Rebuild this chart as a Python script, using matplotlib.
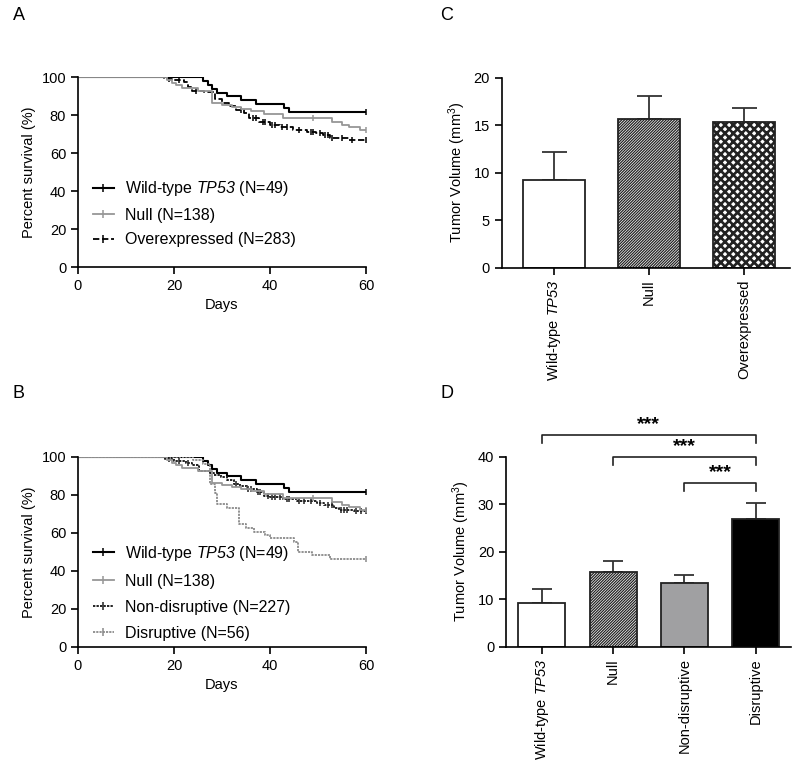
import numpy as np
import matplotlib
matplotlib.use("Agg")
import matplotlib.pyplot as plt
from matplotlib.lines import Line2D

plt.rcParams['font.family'] = ['Liberation Sans', 'DejaVu Sans']
plt.rcParams['mathtext.fontset'] = 'custom'
plt.rcParams['mathtext.rm'] = 'Liberation Sans'
plt.rcParams['mathtext.it'] = 'Liberation Sans:italic'
plt.rcParams['mathtext.bf'] = 'Liberation Sans:italic'
plt.rcParams['hatch.linewidth'] = 1.0

# ---------------- Data ----------------
wt_t = [0, 26, 27, 28, 29, 31, 34, 37, 43, 44, 60]
wt_s = [100, 98.0, 95.9, 93.9, 91.8, 89.8, 87.8, 85.7, 83.7, 81.6, 81.6]
wt_c = [60]

null_t = [0, 18.5, 19.5, 20.5, 21.6, 25, 28, 30, 32, 34, 36, 38.7, 42.8, 53, 55, 56.5, 58.8, 60]
null_s = [100, 98.5, 97, 96, 94, 92.5, 86.5, 85.5, 84, 83, 82, 80.5, 78.6, 76.5, 74.7, 73.8, 72.3, 72.3]
null_c = [49, 60]

over_t = [0, 18, 20, 22, 23, 23.7, 26.3, 28.5, 30, 31.5, 33, 34.5, 35.7, 37.8, 39.9, 42, 44.7,
          47.8, 49.6, 51, 52.4, 56.5, 60]
over_s = [100, 99, 98.4, 97.5, 95, 92.8, 92, 88.5, 86.3, 85, 82.6, 80.9, 78.3, 76.5, 74.7, 73.8, 72.1,
          71.2, 70.4, 69.5, 67.7, 66.8, 66.8]
over_c = [19, 21, 24.5, 34, 36.5, 37, 38.5, 39, 40.5, 41, 42.5, 43.5, 46, 48.5, 49, 50.5,
          51.5, 52, 53, 55, 57, 60]

nd_t = [0, 18.2, 20, 22.4, 23.7, 25.3, 27.5, 28.3, 29.7, 31, 32.4, 33.8, 35.2, 37.3, 38.7, 40,
        42.8, 45.6, 49.8, 51.2, 53.3, 54.3, 57.4, 60]
nd_s = [100, 99, 98, 97, 96, 92.6, 91.5, 90.5, 89.6, 87.9, 86, 84.7, 83, 81.8, 79.5, 78.8,
        77.9, 76.8, 76, 74.7, 73, 72.1, 71.4, 71.4]
nd_c = [19, 21, 23, 33, 35.5, 36, 37.5, 38, 39.5, 40.5, 41, 42, 43.5, 44, 46, 47, 48.5,
        50.5, 52, 53, 54.8, 55.5, 56, 58, 59, 60]

dis_t = [0, 24, 26, 27.6, 28.6, 29, 31, 33.5, 35, 36.6, 39, 40, 45, 45.8, 48.8, 52.6, 60]
dis_s = [100, 98.2, 96.4, 86, 80.9, 75, 73.3, 64.7, 62.5, 60.7, 59, 57.2, 55.4, 50, 48.2, 46.4, 46.4]
dis_c = [60]

labels_A = ['Wild-type $\\mathbf{TP53}$ (N=49)', 'Null (N=138)', 'Overexpressed (N=283)']
labels_B = ['Wild-type $\\mathbf{TP53}$ (N=49)', 'Null (N=138)', 'Non-disruptive (N=227)',
            'Disruptive (N=56)']

cats_C = ['Wild-type $\\mathbf{TP53}$', 'Null', 'Overexpressed']
mean_C = [9.2, 15.7, 15.3]
err_C = [3.0, 2.4, 1.5]

cats_D = ['Wild-type $\\mathbf{TP53}$', 'Null', 'Non-disruptive', 'Disruptive']
mean_D = [9.2, 15.7, 13.5, 26.8]
err_D = [3.0, 2.4, 1.6, 3.5]

sig_pairs = [(0, 3), (1, 3), (2, 3)]
sig_levels = [44.6, 39.9, 34.4]
sig_text = ['***', '***', '***']

# ---------------- Figure ----------------
fig = plt.figure(figsize=(8, 7.68), dpi=100)

GRAY = '#969696'
styles = {
    'wt': dict(color='black', ls='-', lw=1.5),
    'null': dict(color=GRAY, ls='-', lw=1.3),
    'over': dict(color='black', ls=(0, (3.5, 1.5)), lw=1.3),
    'nd': dict(color='#222222', ls=(0, (1.2, 0.6)), lw=1.4),
    'dis': dict(color='#8a8a8a', ls=(0, (1.2, 0.6)), lw=1.3),
}


def km(ax, t, s, c, st, z=2):
    ax.step(t, s, where='post', zorder=z, **st)
    t_arr = np.asarray(t)
    s_arr = np.asarray(s)
    idx = np.searchsorted(t_arr, np.asarray(c), side='right') - 1
    ax.plot(c, s_arr[idx], ls='none', marker='|', color=st['color'], ms=5, mew=1.1, zorder=z)


def style_km(ax):
    ax.set_xlim(0, 60)
    ax.set_ylim(0, 100)
    ax.set_xticks([0, 20, 40, 60])
    ax.set_yticks([0, 20, 40, 60, 80, 100])
    for sp in ['top', 'right']:
        ax.spines[sp].set_visible(False)
    for sp in ['left', 'bottom']:
        ax.spines[sp].set_linewidth(1.2)
    ax.tick_params(labelsize=10.5, width=1.2, length=5, direction='out')
    ax.set_xlabel('Days', fontsize=10.5)
    ax.set_ylabel('Percent survival (%)', fontsize=10.5)


def handle(st):
    return Line2D([], [], marker='|', ms=6, mew=1.1, **st)


leg_kw = dict(loc='lower left', frameon=False, fontsize=11.5, handlelength=1.3,
              handletextpad=0.7)

axA = fig.add_axes([0.0975, 0.6523, 0.36, 0.2474])
km(axA, wt_t, wt_s, wt_c, styles['wt'], 2)
km(axA, over_t, over_s, over_c, styles['over'], 2.1)
km(axA, null_t, null_s, null_c, styles['null'], 2.2)
style_km(axA)
axA.legend([handle(styles['wt']), handle(styles['null']), handle(styles['over'])], labels_A,
           bbox_to_anchor=(0.03, 0.07), labelspacing=0.6, borderaxespad=0.0, **leg_kw)

axB = fig.add_axes([0.0975, 0.1576, 0.36, 0.2474])
km(axB, wt_t, wt_s, wt_c, styles['wt'], 2)
km(axB, dis_t, dis_s, dis_c, styles['dis'], 2.05)
km(axB, nd_t, nd_s, nd_c, styles['nd'], 2.1)
km(axB, null_t, null_s, null_c, styles['null'], 2.2)
style_km(axB)
axB.legend([handle(styles['wt']), handle(styles['null']), handle(styles['nd']), handle(styles['dis'])],
           labels_B, bbox_to_anchor=(0.03, 0.0), labelspacing=0.68, borderaxespad=0.0, **leg_kw)


def style_bar(ax, cats):
    for sp in ['top', 'right']:
        ax.spines[sp].set_visible(False)
    for sp in ['left', 'bottom']:
        ax.spines[sp].set_linewidth(1.2)
    ax.set_xticks(range(len(cats)))
    ax.set_xticklabels(cats, rotation=90, fontsize=10.5)
    ax.tick_params(labelsize=10.5, width=1.2, length=5, direction='out')
    ax.set_ylabel('Tumor Volume (mm$^3$)', fontsize=10.5)


def draw_bar(ax, xi, h, fill, hatch, hlw):
    with plt.rc_context({'hatch.linewidth': hlw}):
        bars = ax.bar(xi, h, width=0.66, color=fill, edgecolor='#222222', lw=1.3,
                      hatch=hatch, zorder=2)
    for b in bars:
        if hasattr(b, 'set_hatch_linewidth'):
            b.set_hatch_linewidth(hlw)


# Panel C
axC = fig.add_axes([0.627, 0.6514, 0.36, 0.2474])
x = np.arange(len(cats_C))
fills = ['white', 'white', 'white']
hatches = [None, '////////////', 'xxxx']
hlws = [1.0, 0.9, 1.9]
for i in range(len(cats_C)):
    draw_bar(axC, x[i], mean_C[i], fills[i], hatches[i], hlws[i])
axC.errorbar(x, mean_C, yerr=[np.zeros(len(x)), err_C], fmt='none', ecolor='#333333',
             elinewidth=1.3, capsize=9, capthick=1.3, zorder=1)
axC.set_xlim(-0.55, 2.48)
axC.set_ylim(0, 20)
axC.set_yticks([0, 5, 10, 15, 20])
style_bar(axC, cats_C)

# Panel D
axD = fig.add_axes([0.6325, 0.158, 0.356, 0.2474])
x = np.arange(len(cats_D))
fillsD = ['white', 'white', '#a0a0a2', 'black']
hatchesD = [None, '////////////', None, None]
hlwsD = [1.0, 0.9, 1.0, 1.0]
for i in range(len(cats_D)):
    draw_bar(axD, x[i], mean_D[i], fillsD[i], hatchesD[i], hlwsD[i])
axD.errorbar(x, mean_D, yerr=[np.zeros(len(x)), err_D], fmt='none', ecolor='#333333',
             elinewidth=1.3, capsize=7, capthick=1.3, zorder=1)
axD.set_xlim(-0.5, 3.49)
axD.set_ylim(0, 40)
axD.set_yticks([0, 10, 20, 30, 40])
style_bar(axD, cats_D)
for (a, b), lev, txt in zip(sig_pairs, sig_levels, sig_text):
    axD.plot([a, a, b, b], [lev - 1.7, lev, lev, lev - 1.7], color='#222222', lw=1.2,
             clip_on=False)
    axD.text((a + b) / 2, lev + 0.4, txt, ha='center', va='bottom', fontsize=14,
             fontweight='bold', clip_on=False)

# Panel letters
fig.text(0.016, 0.980, 'A', fontsize=13, va='center', ha='left')
fig.text(0.016, 0.488, 'B', fontsize=13, va='center', ha='left')
fig.text(0.550, 0.980, 'C', fontsize=13, va='center', ha='left')
fig.text(0.550, 0.488, 'D', fontsize=13, va='center', ha='left')

fig.savefig('out.png', dpi=100)
